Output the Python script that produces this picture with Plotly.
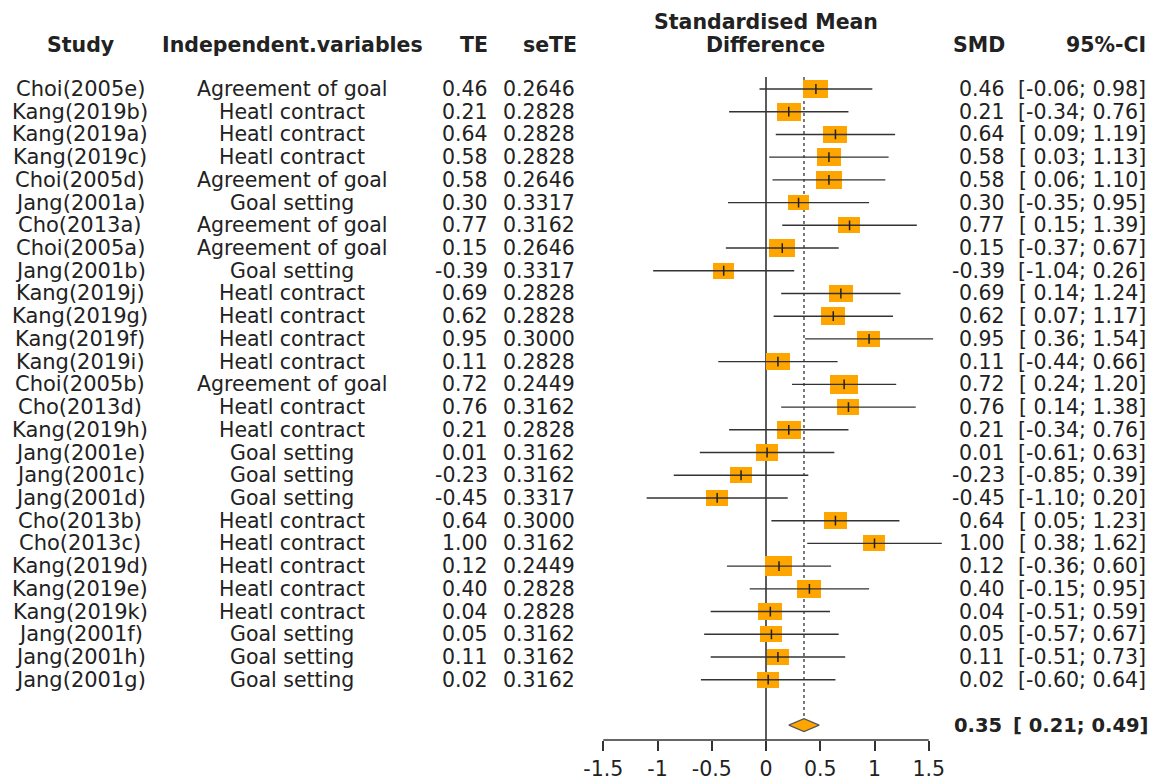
import plotly.graph_objects as go

# ---------------- data ----------------
studies = ["Choi(2005e)", "Kang(2019b)", "Kang(2019a)", "Kang(2019c)", "Choi(2005d)",
           "Jang(2001a)", "Cho(2013a)", "Choi(2005a)", "Jang(2001b)", "Kang(2019j)",
           "Kang(2019g)", "Kang(2019f)", "Kang(2019i)", "Choi(2005b)", "Cho(2013d)",
           "Kang(2019h)", "Jang(2001e)", "Jang(2001c)", "Jang(2001d)", "Cho(2013b)",
           "Cho(2013c)", "Kang(2019d)", "Kang(2019e)", "Kang(2019k)", "Jang(2001f)",
           "Jang(2001h)", "Jang(2001g)"]
variables = ["Agreement of goal", "Heatl contract", "Heatl contract", "Heatl contract",
             "Agreement of goal", "Goal setting", "Agreement of goal", "Agreement of goal",
             "Goal setting", "Heatl contract", "Heatl contract", "Heatl contract",
             "Heatl contract", "Agreement of goal", "Heatl contract", "Heatl contract",
             "Goal setting", "Goal setting", "Goal setting", "Heatl contract",
             "Heatl contract", "Heatl contract", "Heatl contract", "Heatl contract",
             "Goal setting", "Goal setting", "Goal setting"]
te = [0.46, 0.21, 0.64, 0.58, 0.58, 0.30, 0.77, 0.15, -0.39, 0.69, 0.62, 0.95, 0.11,
      0.72, 0.76, 0.21, 0.01, -0.23, -0.45, 0.64, 1.00, 0.12, 0.40, 0.04, 0.05, 0.11, 0.02]
se_te = [0.2646, 0.2828, 0.2828, 0.2828, 0.2646, 0.3317, 0.3162, 0.2646, 0.3317, 0.2828,
         0.2828, 0.3000, 0.2828, 0.2449, 0.3162, 0.2828, 0.3162, 0.3162, 0.3317, 0.3000,
         0.3162, 0.2449, 0.2828, 0.2828, 0.3162, 0.3162, 0.3162]
ci_low = [-0.06, -0.34, 0.09, 0.03, 0.06, -0.35, 0.15, -0.37, -1.04, 0.14, 0.07, 0.36, -0.44,
          0.24, 0.14, -0.34, -0.61, -0.85, -1.10, 0.05, 0.38, -0.36, -0.15, -0.51, -0.57,
          -0.51, -0.60]
ci_high = [0.98, 0.76, 1.19, 1.13, 1.10, 0.95, 1.39, 0.67, 0.26, 1.24, 1.17, 1.54, 0.66,
           1.20, 1.38, 0.76, 0.63, 0.39, 0.20, 1.23, 1.62, 0.60, 0.95, 0.59, 0.67, 0.73, 0.64]
pooled = 0.35
pooled_low = 0.21
pooled_high = 0.49
tick_vals = [-1.5, -1, -0.5, 0, 0.5, 1, 1.5]
tick_text = ["-1.5", "-1", "-0.5", "0", "0.5", "1", "1.5"]

# ---------------- layout geometry ----------------
W, H = 1158, 781
ZERO_PX = 766.0
PXU = 108.5          # pixels per SMD unit
XR = [-1.75, 1.75]
ROW0 = 89.0
ROWPX = 22.72
PLOT_BOTTOM = 740.0


def rpx(py):
    return (py - ROW0) / ROWPX


def xp(px):
    return px / W


n = len(studies)
rows = list(range(n))
sum_row = 28

FONT = "DejaVu Sans"
FS = 20.5
TXT = "#222222"
LINEC = "#333333"
ORANGE = "#FFA500"

fig = go.Figure()

# boxes (size from standard error)
box_wpx = [5.2 + 5.34 / s for s in se_te]
box_w = [w / PXU for w in box_wpx]
box_h = [0.73 * w / ROWPX for w in box_wpx]
fig.add_trace(go.Bar(orientation="h", y=rows, x=box_w,
                     base=[t - w / 2 for t, w in zip(te, box_w)],
                     width=box_h, marker=dict(color=ORANGE, line=dict(width=0)),
                     hoverinfo="skip", showlegend=False))

# CI lines
cx, cy = [], []
for r, lo, hi in zip(rows, ci_low, ci_high):
    cx += [lo, hi, None]
    cy += [r, r, None]
fig.add_trace(go.Scatter(x=cx, y=cy, mode="lines",
                         line=dict(color=LINEC, width=1.4), hoverinfo="skip",
                         showlegend=False))

# centre tick
fig.add_trace(go.Scatter(x=te, y=rows, mode="markers",
                         marker=dict(symbol="line-ns", size=7,
                                     line=dict(color="#222222", width=1.5)),
                         hoverinfo="skip", showlegend=False))

# diamond
dh = 6.5 / ROWPX
fig.add_trace(go.Scatter(x=[pooled_low, pooled, pooled_high, pooled, pooled_low],
                         y=[sum_row, sum_row - dh, sum_row, sum_row + dh, sum_row],
                         mode="lines", fill="toself", fillcolor=ORANGE,
                         line=dict(color="#555555", width=1.2),
                         hoverinfo="skip", showlegend=False))

# reference lines
fig.add_shape(type="line", xref="x", yref="y", x0=0, x1=0,
              y0=rpx(77), y1=rpx(PLOT_BOTTOM), layer="below",
              line=dict(color=LINEC, width=1.6))
fig.add_shape(type="line", xref="x", yref="y", x0=pooled, x1=pooled,
              y0=rpx(77), y1=sum_row - dh, layer="below",
              line=dict(color=LINEC, width=1.3, dash="dot"))
# axis line
fig.add_shape(type="line", xref="x", yref="paper", x0=tick_vals[0], x1=tick_vals[-1],
              y0=0, y1=0, line=dict(color=LINEC, width=1.5))

# ---------------- text columns ----------------
def ann(text, px, row, anchor, bold=False, size=FS):
    fig.add_annotation(text=f"<b>{text}</b>" if bold else text,
                       x=xp(px), xref="paper", y=row, yref="y",
                       xanchor=anchor, yanchor="middle", showarrow=False,
                       font=dict(family=FONT, size=size, color=TXT))


HDR = rpx(45)
ann("Study", 80, HDR, "center", True)
ann("Independent.variables", 292, HDR, "center", True)
ann("TE", 490, HDR, "right", True)
ann("seTE", 579, HDR, "right", True)
ann("Standardised Mean", ZERO_PX, rpx(22), "center", True)
ann("Difference", ZERO_PX, HDR, "center", True)
ann("SMD", 1007, HDR, "right", True)
ann("95%-CI", 1148, HDR, "right", True)

for r in rows:
    ann(studies[r], 80, r, "center", size=21)
    ann(variables[r], 292, r, "center")
    ann(f"{te[r]:.2f}", 490, r, "right")
    ann(f"{se_te[r]:.4f}", 577, r, "right")
    ann(f"{te[r]:.2f}", 1007, r, "right")
    ann(f"[{ci_low[r]:5.2f}; {ci_high[r]:.2f}]", 1148, r, "right")

ann(f"{pooled:.2f}", 1004, sum_row, "right", True, 19.5)
ann(f"[{pooled_low:5.2f}; {pooled_high:.2f}]", 1150, sum_row, "right", True, 19.5)

fig.update_layout(
    width=W, height=H,
    margin=dict(l=0, r=0, t=0, b=H - PLOT_BOTTOM, autoexpand=False),
    paper_bgcolor="white", plot_bgcolor="white",
    showlegend=False, bargap=0,
    xaxis=dict(domain=[xp(ZERO_PX + XR[0] * PXU), xp(ZERO_PX + XR[1] * PXU)],
               range=XR, showgrid=False, zeroline=False, showline=False,
               ticks="outside", ticklen=10, tickwidth=1.5, tickcolor=LINEC,
               tickvals=tick_vals, ticktext=tick_text,
               tickfont=dict(family=FONT, size=FS, color=TXT), automargin=False,
               fixedrange=True),
    yaxis=dict(range=[rpx(PLOT_BOTTOM), rpx(0)], visible=False, showgrid=False,
               zeroline=False, automargin=False, fixedrange=True),
)

fig.write_html("out.html")
